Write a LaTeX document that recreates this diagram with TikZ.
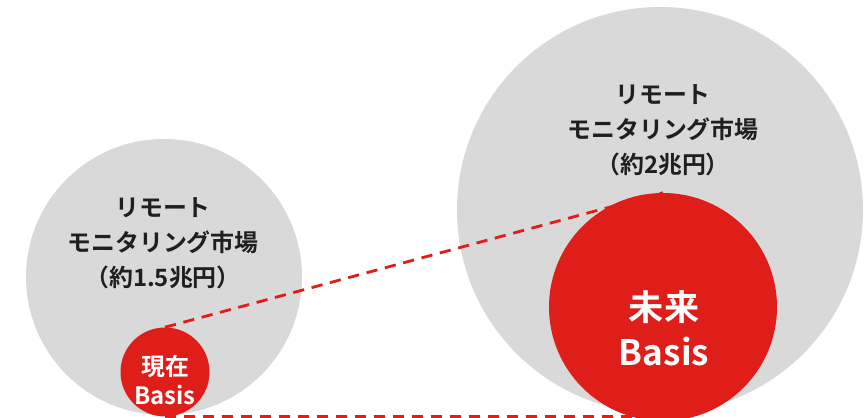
\documentclass[tikz,border=0pt]{standalone}
\usepackage{fontspec}
\setmainfont{Noto Sans CJK JP}[BoldFont={Noto Sans CJK JP Bold}]
\usetikzlibrary{positioning}
\definecolor{marketgray}{HTML}{D9D9D9}
\definecolor{basisred}{HTML}{E01E19}
\definecolor{labeltext}{HTML}{1F1F1F}
\pgfdeclarelayer{bg}
\pgfdeclarelayer{mid}
\pgfsetlayers{bg,mid,main}

\begin{document}
\begin{tikzpicture}[
	market/.style={circle, fill=marketgray, inner sep=0pt},
	basis/.style={circle, fill=basisred, inner sep=0pt},
	marketlabel/.style={align=center, text=labeltext, font=\bfseries\fontsize{17}{24.8}\selectfont},
	basislabel/.style={align=center, text=white, font=\bfseries},
	link/.style={draw=basisred, line width=2pt, dash pattern=on 8pt off 5.5pt}]
	\useasboundingbox (0,0) rectangle (21.65,10.45);
	
	%market circles
	\begin{pgfonlayer}{bg}
		\node[market, minimum size=6.9cm]   (nowmarket)    at (4.1,3.525) {};
		\node[market, minimum size=10.15cm] (futuremarket) at (16.5,5.2)  {};
	\end{pgfonlayer}
	
	%basis circles
	\node[basis, minimum size=2.225cm] (now)    at (4.125,1.15)   {};
	\node[basis, minimum size=5.7cm]   (future) at (16.575,2.775) {};
	
	%dashed links, under the red circles
	\begin{pgfonlayer}{mid}
		\draw[link] (now.north) -- (future.north);
		\draw[link] (now.south) -- (now.south -| future.south);
	\end{pgfonlayer}
	
	\node[marketlabel] (nowtext)    at (4.075,4.375) {リモート\\モニタリング市場\\（約1.5兆円）};
	\node[marketlabel] (futuretext) at (16.575,7.2)  {リモート\\モニタリング市場\\（約2兆円）};
	
	\node[basislabel, font=\bfseries\fontsize{17}{21}\selectfont]   (nowname)    at (4.125,0.95)  {現在\\Basis};
	\node[basislabel, font=\bfseries\fontsize{25}{32}\selectfont] (futurename) at (16.6,2.25) {未来\\Basis};
\end{tikzpicture}
\end{document}
